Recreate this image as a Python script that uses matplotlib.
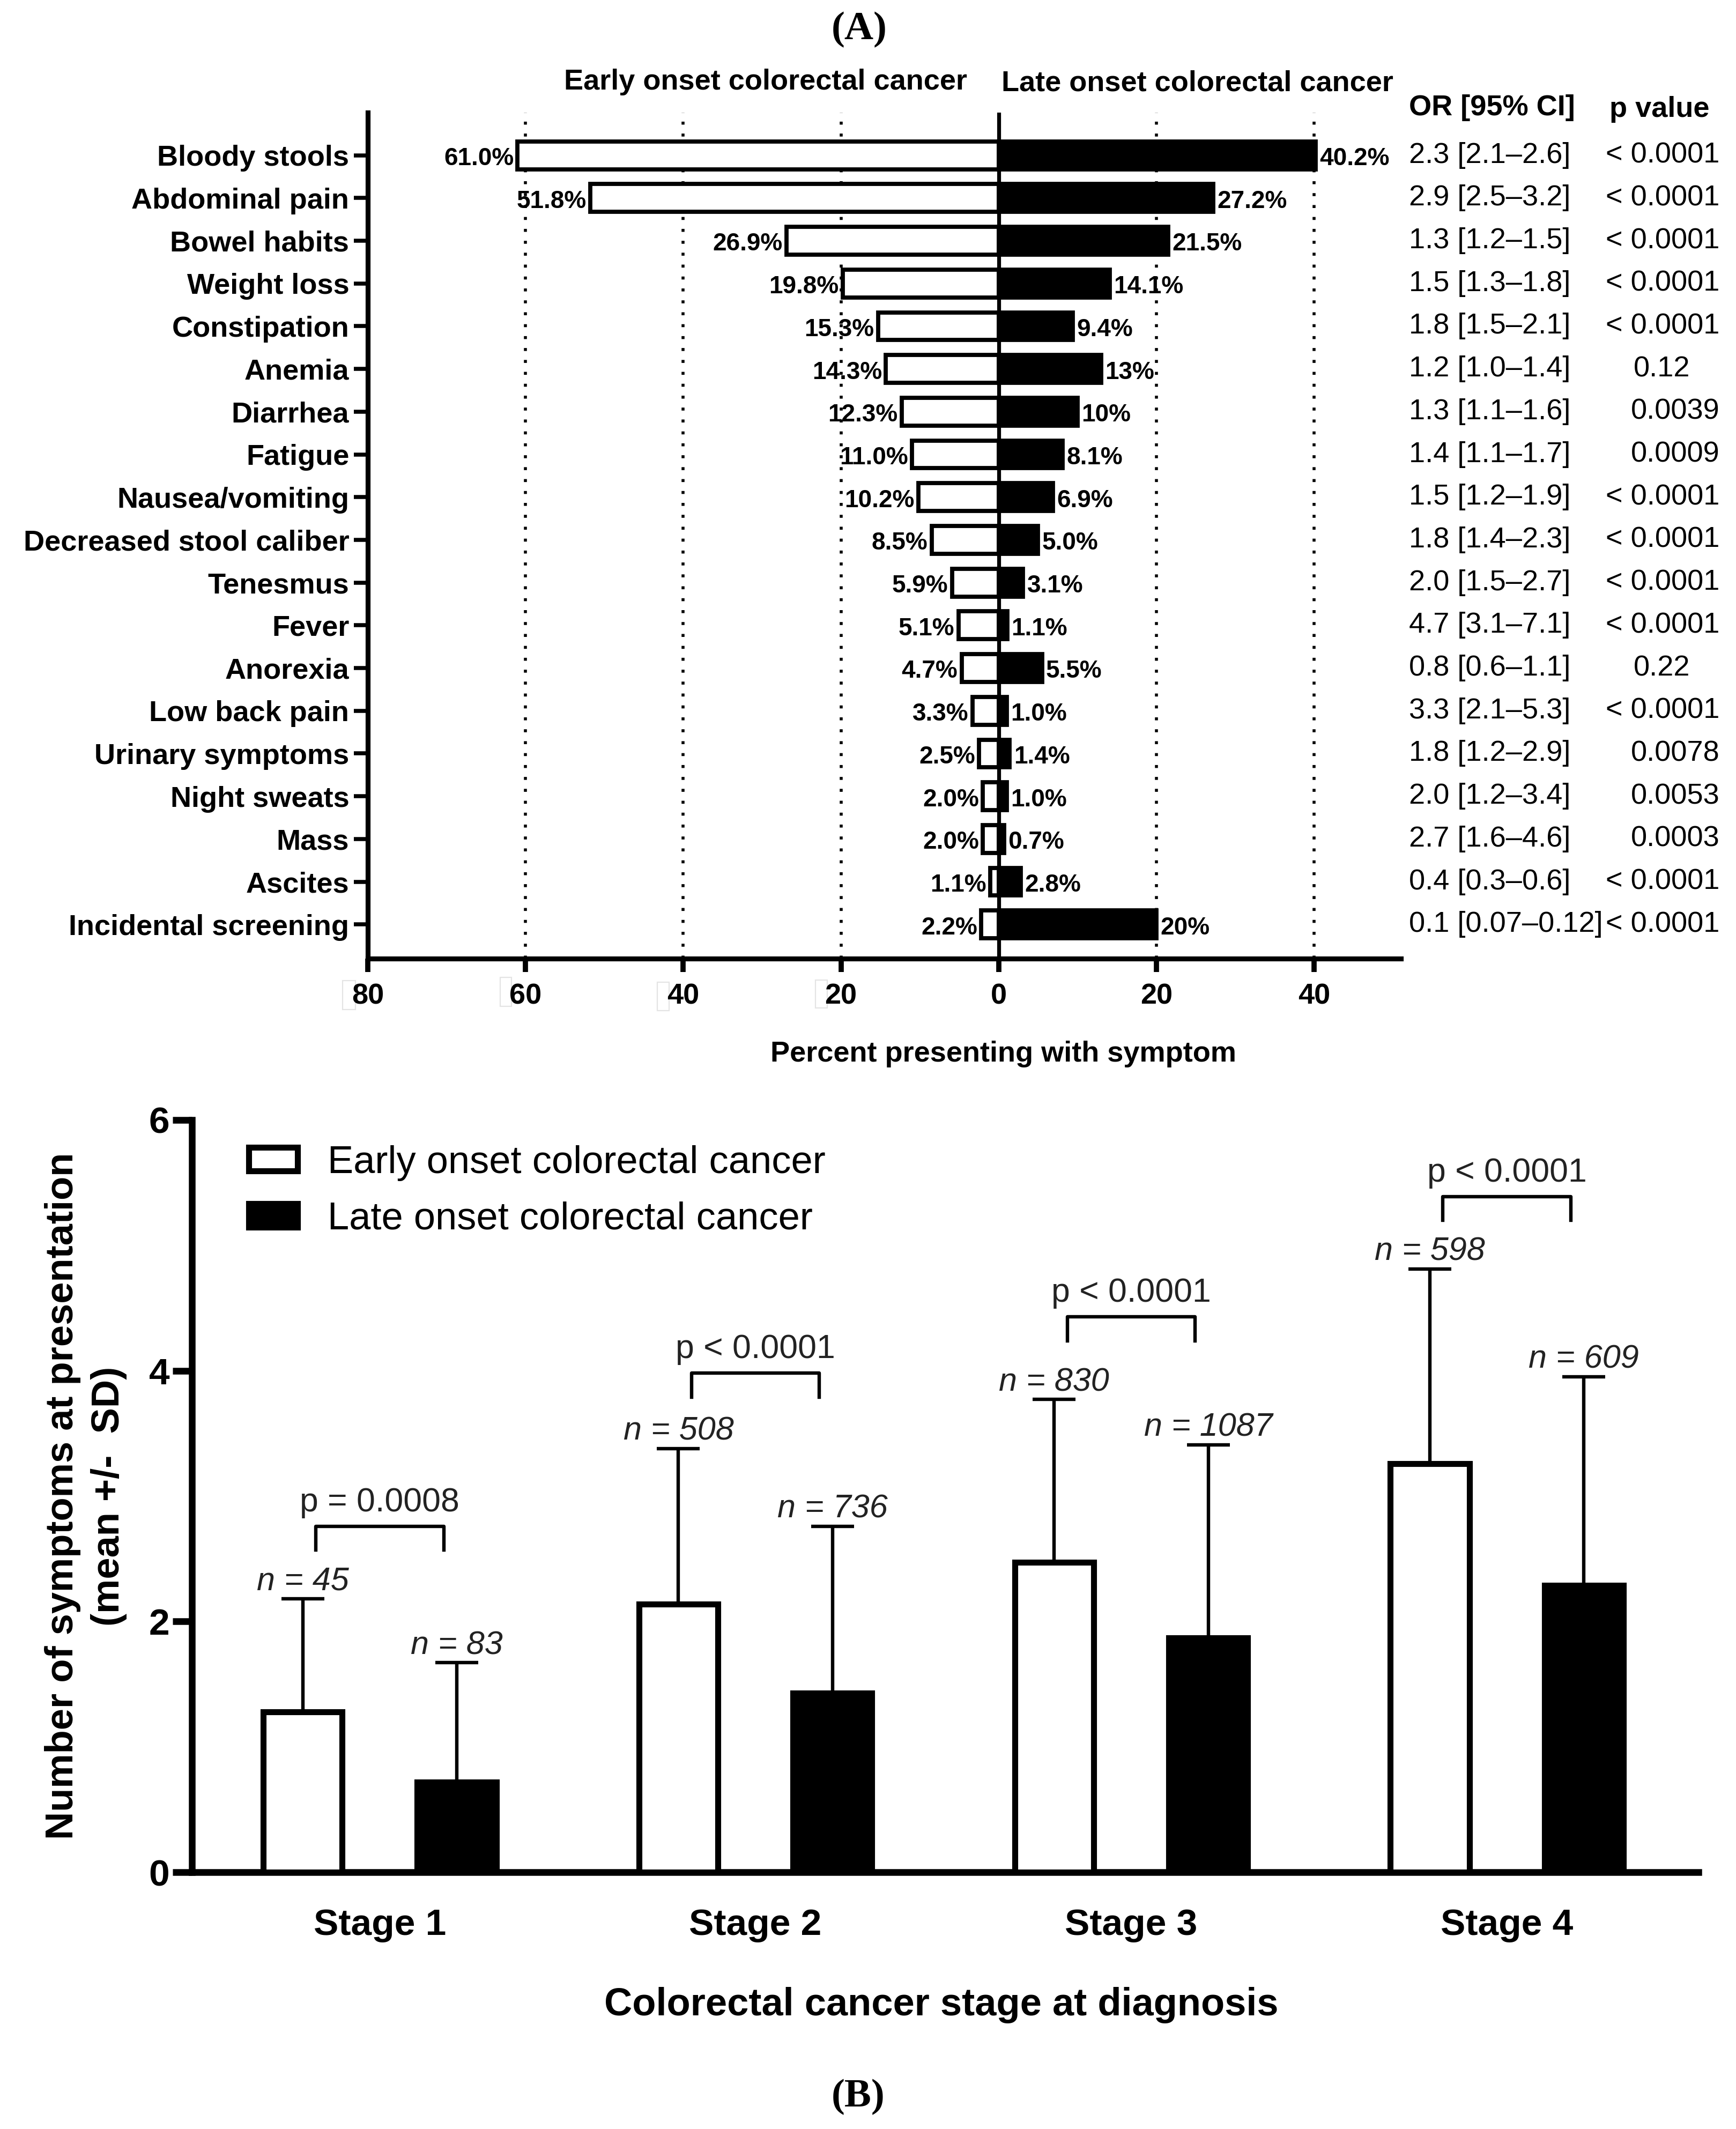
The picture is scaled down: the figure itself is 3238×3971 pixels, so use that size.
import numpy as np
import matplotlib.pyplot as plt
from matplotlib.patches import Rectangle
from matplotlib.ticker import FuncFormatter

plt.rcParams['font.family'] = ['Liberation Sans', 'DejaVu Sans']
plt.rcParams['font.weight'] = 'bold'

W, H = 3238, 3971
DPI = 200

# Panel A: symptoms at presentation (percent)
symptoms = ["Bloody stools", "Abdominal pain", "Bowel habits", "Weight loss",
            "Constipation", "Anemia", "Diarrhea", "Fatigue", "Nausea/vomiting",
            "Decreased stool caliber", "Tenesmus", "Fever", "Anorexia",
            "Low back pain", "Urinary symptoms", "Night sweats", "Mass",
            "Ascites", "Incidental screening"]
early_pct = [61.0, 51.8, 26.9, 19.8, 15.3, 14.3, 12.3, 11.0, 10.2, 8.5,
             5.9, 5.1, 4.7, 3.3, 2.5, 2.0, 2.0, 1.1, 2.2]
late_pct = [40.2, 27.2, 21.5, 14.1, 9.4, 13, 10, 8.1, 6.9, 5.0,
            3.1, 1.1, 5.5, 1.0, 1.4, 1.0, 0.7, 2.8, 20]
early_lbl = ["61.0%", "51.8%", "26.9%", "19.8%", "15.3%", "14.3%", "12.3%",
             "11.0%", "10.2%", "8.5%", "5.9%", "5.1%", "4.7%", "3.3%", "2.5%",
             "2.0%", "2.0%", "1.1%", "2.2%"]
late_lbl = ["40.2%", "27.2%", "21.5%", "14.1%", "9.4%", "13%", "10%", "8.1%",
            "6.9%", "5.0%", "3.1%", "1.1%", "5.5%", "1.0%", "1.4%", "1.0%",
            "0.7%", "2.8%", "20%"]
odds_ratio = ["2.3 [2.1\u20132.6]", "2.9 [2.5\u20133.2]", "1.3 [1.2\u20131.5]",
              "1.5 [1.3\u20131.8]", "1.8 [1.5\u20132.1]", "1.2 [1.0\u20131.4]",
              "1.3 [1.1\u20131.6]", "1.4 [1.1\u20131.7]", "1.5 [1.2\u20131.9]",
              "1.8 [1.4\u20132.3]", "2.0 [1.5\u20132.7]", "4.7 [3.1\u20137.1]",
              "0.8 [0.6\u20131.1]", "3.3 [2.1\u20135.3]", "1.8 [1.2\u20132.9]",
              "2.0 [1.2\u20133.4]", "2.7 [1.6\u20134.6]", "0.4 [0.3\u20130.6]",
              "0.1 [0.07\u20130.12]"]
p_values = ["< 0.0001", "< 0.0001", "< 0.0001", "< 0.0001", "< 0.0001", "0.12",
            "0.0039", "0.0009", "< 0.0001", "< 0.0001", "< 0.0001", "< 0.0001",
            "0.22", "< 0.0001", "0.0078", "0.0053", "0.0003", "< 0.0001",
            "< 0.0001"]

# Panel B: number of symptoms by stage (mean, SD)
stages = ["Stage 1", "Stage 2", "Stage 3", "Stage 4"]
early_mean = [1.28, 2.14, 2.47, 3.26]
early_sd = [0.90, 1.24, 1.30, 1.55]
late_mean = [0.72, 1.43, 1.87, 2.29]
late_sd = [0.95, 1.33, 1.54, 1.66]
early_n = [45, 508, 830, 598]
late_n = [83, 736, 1087, 609]
p_stage = ["p = 0.0008", "p < 0.0001", "p < 0.0001", "p < 0.0001"]
bracket_y = [2.76, 3.98, 4.43, 5.39]


def box(l, t, r, b):
    # pixel box -> figure fraction rect
    return [l / W, 1 - b / H, (r - l) / W, (b - t) / H]


fig = plt.figure(figsize=(W / DPI, H / DPI), dpi=DPI)

# ---------------- Panel A ----------------
axA = fig.add_axes(box(686, 210, 2613, 1788))
yy = np.arange(len(symptoms))
axA.barh(yy, -np.array(early_pct), height=0.65, color="white",
         edgecolor="black", linewidth=2.8, zorder=3)
axA.barh(yy, late_pct, height=0.65, color="black",
         edgecolor="black", linewidth=2.8, zorder=3)
axA.axvline(0, color="black", lw=2.6, zorder=4)
for gx in [-60, -40, -20, 20, 40]:
    axA.axvline(gx, color="black", lw=2, ls=(0, (1, 3)), zorder=1)

for i in range(len(symptoms)):
    axA.text(-early_pct[i] - 0.5, i + 0.08, early_lbl[i], ha="right",
             va="center", fontsize=16.5, zorder=5)
    axA.text(late_pct[i] + 0.5, i + 0.08, late_lbl[i], ha="left",
             va="center", fontsize=16.5, zorder=5)
    axA.text(52.0, i, odds_ratio[i], ha="left", va="center",
             fontsize=19.5, weight="normal")
    if len(p_values[i]) < 6:
        axA.text(84.1, i, p_values[i], ha="center", va="center",
                 fontsize=19.5, weight="normal")
    else:
        axA.text(91.4, i, p_values[i], ha="right", va="center",
                 fontsize=19.5, weight="normal")

axA.text(-4.0, -1.72, "Early onset colorectal cancer", ha="right",
         va="center", fontsize=19.5)
axA.text(0.35, -1.68, "Late onset colorectal cancer", ha="left",
         va="center", fontsize=19.5)
axA.text(52.0, -1.11, "OR [95% CI]", ha="left", va="center", fontsize=19.5)
axA.text(83.8, -1.07, "p value", ha="center", va="center", fontsize=19.5)

axA.set_xlim(-80, 51)
axA.set_ylim(18.8, -1.0)
axA.set_yticks(yy)
axA.set_yticklabels(symptoms)
axA.set_xticks(range(-80, 41, 20))
axA.xaxis.set_major_formatter(FuncFormatter(lambda v, pos: "%d" % abs(v)))
axA.tick_params(axis="y", length=9.5, width=2.7, labelsize=19.5, pad=3)
axA.tick_params(axis="x", length=9, width=3.5, labelsize=19.5, pad=7.5)
for s in ["top", "right"]:
    axA.spines[s].set_visible(False)
for s in ["left", "bottom"]:
    axA.spines[s].set_linewidth(3.3)
axA.set_xlabel("Percent presenting with symptom", fontsize=19.5, weight="bold")
axA.xaxis.set_label_coords((1871 - 686) / 1927, -(1966 - 1788) / 1578)
axA.xaxis.label.set_va("center")

# faint leftover boxes in the source image
for (l, t, r, b) in [(742, 1499, 954, 1694), (983, 1499, 1200, 1694),
                     (639, 1829, 663, 1883), (933, 1823, 954, 1877),
                     (1226, 1832, 1248, 1885), (1521, 1828, 1543, 1880)]:
    fig.add_artist(Rectangle((l / W, 1 - b / H), (r - l) / W, (b - t) / H,
                             transform=fig.transFigure, facecolor="white",
                             edgecolor="#e4e4e4", lw=0.8, zorder=0))

# ---------------- Panel B ----------------
axB = fig.add_axes(box(358, 2089, 3168, 3492))
xs = np.arange(len(stages))
off, bw = 0.205, 0.21
b1 = axB.bar(xs - off, early_mean, bw, color="white", edgecolor="black",
             linewidth=4, zorder=3, label="Early onset colorectal cancer")
b2 = axB.bar(xs + off, late_mean, bw, color="black", edgecolor="black",
             linewidth=4, zorder=3, label="Late onset colorectal cancer")
axB.errorbar(xs - off, early_mean, yerr=[np.zeros(4), early_sd], fmt="none",
             ecolor="black", elinewidth=2.3, capsize=14.5, capthick=2.3,
             zorder=2)
axB.errorbar(xs + off, late_mean, yerr=[np.zeros(4), late_sd], fmt="none",
             ecolor="black", elinewidth=2.3, capsize=14.5, capthick=2.3,
             zorder=2)

for i in range(len(stages)):
    axB.text(xs[i] - off, early_mean[i] + early_sd[i] + 0.07,
             "n = %d" % early_n[i], ha="center", va="baseline",
             fontsize=22, style="italic", weight="normal", color="#222222")
    axB.text(xs[i] + off, late_mean[i] + late_sd[i] + 0.07,
             "n = %d" % late_n[i], ha="center", va="baseline",
             fontsize=22, style="italic", weight="normal", color="#222222")
    by = bracket_y[i]
    axB.plot([xs[i] - 0.17, xs[i] - 0.17, xs[i] + 0.17, xs[i] + 0.17],
             [by - 0.19, by, by, by - 0.19], color="black", lw=2.3)
    axB.text(xs[i], by + 0.12, p_stage[i], ha="center", va="baseline",
             fontsize=22.5, weight="normal", color="#222222")

axB.set_xlim(-0.5, 3.51)
axB.set_ylim(0, 6)
axB.set_yticks([0, 2, 4, 6])
axB.set_xticks(xs)
axB.set_xticklabels(stages)
axB.tick_params(axis="y", length=13, width=4.5, labelsize=25, pad=2)
axB.tick_params(axis="x", length=0, labelsize=25, pad=24)
for s in ["top", "right"]:
    axB.spines[s].set_visible(False)
for s in ["left", "bottom"]:
    axB.spines[s].set_linewidth(4.5)

axB.set_ylabel("Number of symptoms at presentation\n(mean +/-  SD)",
               fontsize=26, weight="bold", linespacing=1.35)
axB.yaxis.set_label_coords((160 - 358) / 2810, 0.5)
axB.yaxis.label.set_va("center")
axB.set_xlabel("Colorectal cancer stage at diagnosis", fontsize=26,
               weight="bold")
axB.xaxis.set_label_coords(0.4975, -(3740 - 3492) / 1403)
axB.xaxis.label.set_va("center")

axB.legend(handles=[b1, b2], loc="upper left",
           bbox_to_anchor=(464 / W, 1 - 2136 / H),
           bbox_transform=fig.transFigure, frameon=False,
           prop={"size": 26, "weight": "normal"}, handlelength=1.26,
           handleheight=0.56, handletextpad=0.78, labelspacing=0.52,
           borderpad=0, borderaxespad=0)

# panel letters
fig.text(1603 / W, 1 - 55 / H, "(A)", ha="center", va="center",
         family="Liberation Serif", weight="bold", fontsize=27)
fig.text(1601 / W, 1 - 3911 / H, "(B)", ha="center", va="center",
         family="Liberation Serif", weight="bold", fontsize=27)

fig.savefig("out.png", dpi=DPI, facecolor="white")
